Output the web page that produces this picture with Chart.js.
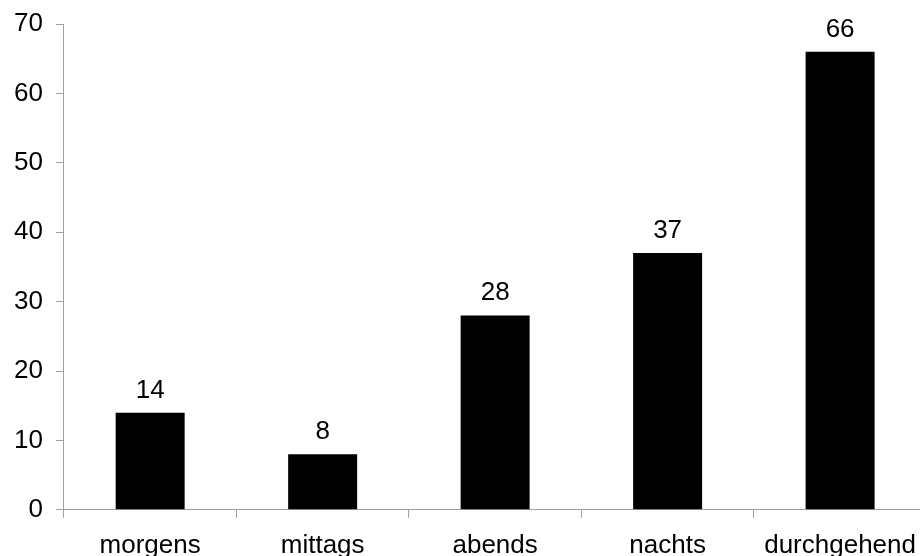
<!DOCTYPE html>
<html>
<head>
<meta charset="utf-8">
<script src="https://cdn.jsdelivr.net/npm/chart.js@4"></script>
<style>
  html, body { margin: 0; padding: 0; background: #fff; overflow: hidden; }
  #wrap { width: 928px; height: 573px; }
</style>
</head>
<body>
<div id="wrap"><canvas id="zeitChart"></canvas></div>
<script>
// Kategorien und Werte
const kategorien = ['morgens', 'mittags', 'abends', 'nachts', 'durchgehend'];
const werte = [14, 8, 28, 37, 66];
const yMax = 70;
const yStep = 10;

const achsenFarbe = '#a0a0a0';
const schrift = { family: "'Liberation Sans', Arial, sans-serif", size: 26 };

// Werte über die Balken schreiben
const wertBeschriftung = {
    id: 'wertBeschriftung',
    afterDatasetsDraw(chart) {
        const ctx = chart.ctx;
        ctx.save();
        ctx.fillStyle = '#000';
        ctx.font = `${schrift.size}px ${schrift.family}`;
        ctx.textAlign = 'center';
        ctx.textBaseline = 'alphabetic';
        chart.getDatasetMeta(0).data.forEach((bar, i) => {
            ctx.fillText(chart.data.datasets[0].data[i], bar.x, bar.y - 15);
        });
        ctx.restore();
    }
};

const ctx = document.getElementById('zeitChart').getContext('2d');
new Chart(ctx, {
    type: 'bar',
    data: {
        labels: kategorien,
        datasets: [{
            data: werte,
            backgroundColor: '#000',
            borderWidth: 0,
            categoryPercentage: 1,
            barPercentage: 0.4
        }]
    },
    options: {
        responsive: true,
        maintainAspectRatio: false,
        animation: false,
        layout: { padding: { top: 24, left: 1, right: 0, bottom: 0 } },
        plugins: {
            legend: { display: false },
            tooltip: { enabled: false }
        },
        scales: {
            x: {
                grid: { drawOnChartArea: false, drawTicks: true, tickLength: 8, color: achsenFarbe },
                border: { display: true, color: achsenFarbe },
                ticks: { color: '#000', font: schrift, padding: 12, maxRotation: 0, autoSkip: false }
            },
            y: {
                min: 0,
                max: yMax,
                grid: { drawOnChartArea: false, drawTicks: true, tickLength: 8, color: achsenFarbe },
                border: { display: true, color: achsenFarbe },
                ticks: { stepSize: yStep, color: '#000', font: { ...schrift, lineHeight: 0.8 }, padding: 13 }
            }
        }
    },
    plugins: [wertBeschriftung]
});
</script>
</body>
</html>
